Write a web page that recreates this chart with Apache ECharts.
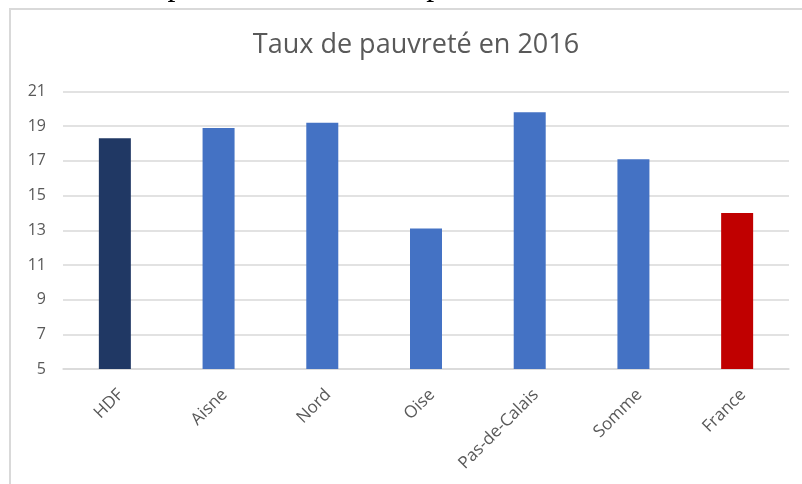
<!DOCTYPE html>
<html>
<head>
<meta charset="utf-8">
<script src="https://cdn.jsdelivr.net/npm/echarts@6/dist/echarts.min.js"></script>
<style>
  html, body { margin: 0; padding: 0; background: #ffffff; }
  #chart { width: 802px; height: 484px; }
</style>
</head>
<body>
<div id="chart"></div>
<script>
// Taux de pauvreté 2016 par département (en %)
const categories = ['HDF', 'Aisne', 'Nord', 'Oise', 'Pas-de-Calais', 'Somme', 'France'];
const povertyRate = [18.3, 18.9, 19.2, 13.1, 19.8, 17.1, 14.0];
const yMin = 5;
const yMax = 21;
const yStep = 2;

const chartTitle = 'Taux de pauvreté en 2016';
const captionText = '6 : Taux de pauvreté dans les départements des Hauts-de-France';

// Region total in navy, national reference in red, departments in blue
function barColor(name) {
  if (name === 'HDF') return '#203864';
  if (name === 'France') return '#C00000';
  return '#4472C4';
}

const chart = echarts.init(document.getElementById('chart'), null, { renderer: 'canvas' });

chart.setOption({
  animation: false,
  backgroundColor: '#ffffff',
  title: {
    text: chartTitle,
    left: 411,
    top: 27,
    textAlign: 'center',
    textStyle: {
      fontFamily: 'Open Sans',
      fontSize: 27,
      fontWeight: 'normal',
      color: '#595959'
    }
  },
  graphic: [
    {
      type: 'rect',
      shape: { x: 10, y: 9, width: 820, height: 500 },
      style: { fill: 'none', stroke: '#d9d9d9', lineWidth: 2 },
      silent: true
    },
    {
      type: 'text',
      x: 17,
      y: -13.5,
      style: {
        text: captionText,
        font: '32px "Liberation Serif"',
        fill: '#000000',
        verticalAlign: 'middle'
      },
      silent: true
    }
  ],
  grid: {
    left: 63,
    right: 13,
    top: 91.5,
    bottom: 115,
    containLabel: false
  },
  xAxis: {
    type: 'category',
    data: categories,
    axisLine: { show: true, lineStyle: { color: '#d9d9d9', width: 1.5 } },
    axisTick: { show: false },
    axisLabel: {
      rotate: 45,
      margin: 17,
      interval: 0,
      verticalAlign: 'top',
      fontFamily: 'Open Sans',
      fontSize: 17,
      color: '#595959'
    }
  },
  yAxis: {
    type: 'value',
    min: yMin,
    max: yMax,
    interval: yStep,
    axisLine: { show: false },
    axisTick: { show: false },
    splitLine: { lineStyle: { color: '#d9d9d9', width: 1.5 } },
    axisLabel: {
      margin: 17,
      fontFamily: 'Open Sans',
      fontSize: 16,
      color: '#595959'
    }
  },
  series: [
    {
      type: 'bar',
      data: povertyRate.map((v, i) => ({
        value: v,
        itemStyle: { color: barColor(categories[i]) }
      })),
      barWidth: 32
    }
  ]
});
</script>
</body>
</html>
